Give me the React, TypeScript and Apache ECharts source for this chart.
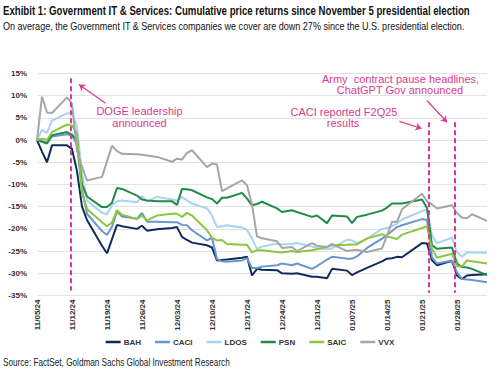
import React, { useEffect, useRef } from 'react';
import * as echarts from 'echarts';

const tradingDays = [
  '2024-11-05', '2024-11-06', '2024-11-07', '2024-11-08', '2024-11-11', '2024-11-12', '2024-11-13', '2024-11-14', '2024-11-15',
  '2024-11-18', '2024-11-19', '2024-11-20', '2024-11-21', '2024-11-22', '2024-11-25', '2024-11-26', '2024-11-27', '2024-11-29',
  '2024-12-02', '2024-12-03', '2024-12-04', '2024-12-05', '2024-12-06', '2024-12-09', '2024-12-10', '2024-12-11', '2024-12-12',
  '2024-12-13', '2024-12-16', '2024-12-17', '2024-12-18', '2024-12-19', '2024-12-20', '2024-12-23', '2024-12-24', '2024-12-26',
  '2024-12-27', '2024-12-30', '2024-12-31', '2025-01-02', '2025-01-03', '2025-01-06', '2025-01-07', '2025-01-08', '2025-01-10',
  '2025-01-13', '2025-01-14', '2025-01-15', '2025-01-16', '2025-01-17', '2025-01-21', '2025-01-22', '2025-01-23', '2025-01-24',
  '2025-01-27', '2025-01-28', '2025-01-29', '2025-01-30', '2025-01-31', '2025-02-03',
];

const BAH = [0, -2.6, -5, -1.2, -1.2, -2.0, -7, -15, -18, -23.8, -25.5, -22.3, -19.1, -19.4, -20, -19.3, -20.4, -20.1, -19.8, -19.6, -21.8, -22.5, -23.1, -23.7, -24.2, -27.1, -27.0, -26.9, -26.5, -26.3, -30.5, -29.0, -29.2, -29.3, -30.0, -30.1, -30.0, -30.8, -30.8, -31.1, -29.0, -29.4, -30.4, -29.8, -28.8, -27.3, -26.7, -26.6, -26.3, -26.4, -23.2, -23.3, -27.1, -28.2, -27.2, -30.5, -31.3, -30.5, -30.4, -30.2];
const CACI = [0, -0.3, -0.6, 0.8, 1.3, 1.0, -1, -11, -16.6, -20.5, -21.4, -19.5, -16.1, -17.2, -17.7, -16.4, -18.4, -18.4, -18.5, -18.5, -19.1, -19.2, -20.3, -22.6, -22.0, -26.8, -27.3, -27.4, -27.1, -26.6, -28.8, -28.8, -28.5, -28.2, -27.8, -28.2, -27.8, -29.0, -28.4, -26.9, -26.3, -26.7, -26.7, -26.2, -24.3, -22.2, -21.4, -20.5, -19.6, -19.2, -17.8, -18.0, -26.4, -27.8, -27.1, -29.8, -31.3, -31.4, -31.5, -32.0];
const LDOS = [0, 2.3, 1.6, 4.4, 6.0, 6.2, 2.9, -7.5, -13.6, -16.4, -16.7, -14.7, -13.8, -13.6, -14.0, -12.6, -13.8, -12.8, -13.4, -13.6, -12.8, -13.6, -14.3, -15.4, -17.0, -19.6, -19.4, -19.2, -19.7, -20.2, -22.2, -24.5, -24.0, -23.3, -23.5, -23.4, -23.2, -24.0, -24.3, -24.6, -24.4, -22.4, -22.6, -23.2, -22.2, -20.0, -19.8, -19.4, -18.8, -17.9, -16.0, -15.6, -21.5, -23.2, -22.0, -25.2, -26.3, -25.3, -25.3, -25.4];
const PSN = [0, -0.4, -0.8, 1.1, 1.8, 1.2, 0, -10, -12.7, -15.1, -15.1, -14.1, -10.8, -11.0, -12.5, -13.4, -13.6, -13.8, -13.8, -14.6, -11.0, -11.1, -11.3, -12.9, -13.3, -14.3, -13.0, -13.0, -11.9, -13.2, -14.7, -14.4, -13.9, -15.4, -16.2, -15.8, -16.2, -17.3, -17.0, -18.7, -17.0, -17.2, -18.7, -17.3, -16.8, -15.9, -15.2, -14.3, -14.3, -14.3, -13.4, -15.3, -23.7, -24.5, -24.2, -27.8, -28.6, -28.7, -29.0, -30.4];
const SAIC = [0, 0.3, 0, 1.8, 3.5, 3.3, 1.4, -12, -15.5, -18.5, -19.4, -18.6, -15.8, -16.8, -17.8, -17.0, -18.1, -17.0, -16.6, -16.6, -17.3, -16.4, -17.0, -20.3, -22.0, -22.6, -22.5, -23.4, -23.6, -23.6, -25.3, -24.8, -24.8, -25.2, -25.3, -25.0, -25.2, -24.8, -24.6, -24.1, -23.7, -23.6, -23.5, -23.5, -22.2, -21.2, -21.7, -22.0, -22.3, -21.3, -19.8, -19.4, -24.5, -26.5, -25.6, -28.4, -28.5, -27.1, -27.3, -27.8];
const VVX = [0, 9.8, 6.2, 6.1, 9.6, 8.2, -2.5, -6, -9.1, -8.3, -4.8, -1.3, -2.5, -3.1, -3.2, -3.3, -3.5, -3.8, -4.9, -4.2, -4.4, -2.9, -2.3, -6.1, -5.3, -5.5, -11.5, -10.9, -9.1, -10.2, -14.5, -21.7, -22.1, -22.8, -24.3, -24.1, -25.0, -23.2, -23.8, -24.1, -23.4, -25.0, -24.8, -24.7, -25.2, -24.4, -21.5, -18.4, -18.4, -15.6, -12.1, -13.8, -14.5, -15.4, -14.7, -16.5, -17.5, -17.6, -16.7, -18.2];

const seriesNames = ['BAH', 'CACI', 'LDOS', 'PSN', 'SAIC', 'VVX'];
const seriesValues = [BAH, CACI, LDOS, PSN, SAIC, VVX];
const seriesColors = ['#0c2d5b', '#6a95d1', '#a9d3f2', '#1f8b4a', '#8cc63f', '#a6a6a6'];

const axisStart = '2024-11-05';
const axisEnd = '2025-02-03';
const yMin = -35;
const yMax = 15;
const yStep = 5;
const xStepDays = 7;

const title = 'Exhibit 1: Government IT & Services: Cumulative price returns since November 5 presidential election';
const subtitle = 'On average, the Government IT & Services companies we cover are down 27% since the U.S. presidential election.';
const source = 'Source: FactSet, Goldman Sachs Global Investment Research';

const PINK = '#d63c8d';
const DAY = 86400000;
const START = Date.parse(axisStart + 'T00:00:00Z');
const dayOffset = (iso: string) => Math.round((Date.parse(iso + 'T00:00:00Z') - START) / DAY);
const fmtDay = (d: number) => {
  const dt = new Date(START + d * DAY);
  const mm = String(dt.getUTCMonth() + 1).padStart(2, '0');
  const dd = String(dt.getUTCDate()).padStart(2, '0');
  const yy = String(dt.getUTCFullYear() % 100).padStart(2, '0');
  return `${mm}/${dd}/${yy}`;
};

export default function App() {
  const ref = useRef<HTMLDivElement>(null);
  useEffect(() => {
    if (!ref.current) return;
    const chart = echarts.init(ref.current, undefined, { renderer: 'svg' });
    const xs = tradingDays.map(dayOffset);
    const font = '"Liberation Sans", Arial, sans-serif';

    const canvas = document.createElement('canvas');
    const ctx = canvas.getContext('2d');
    const fitText = (text: string, f: string, target: number) => {
      if (!ctx) return 1;
      ctx.font = f;
      const w = ctx.measureText(text).width;
      return w > 0 ? target / w : 1;
    };
    const titleFont = `bold 12.5px ${font}`;
    const subFont = `11.5px ${font}`;
    const srcFont = `10.5px ${font}`;

    const lineSeries = seriesNames.map((name, i) => ({
      name,
      type: 'line',
      data: seriesValues[i].map((v, j) => [xs[j], v]),
      showSymbol: false,
      symbol: 'none',
      lineStyle: { width: 2, color: seriesColors[i] },
      itemStyle: { color: seriesColors[i] },
      z: 3,
    }));

    const dash = (d: number, top: number, bottom: number) => [
      { coord: [d, top] },
      { coord: [d, bottom] },
    ];
    const arrow = (x1: number, y1: number, x2: number, y2: number) => [
      { coord: [x1, y1], symbol: 'none' },
      { coord: [x2, y2], symbol: 'arrow', symbolSize: 6 },
    ];
    const note = (text: string, x: number, y: number) => ({
      type: 'text', x, y,
      style: { text, font: `11px ${font}`, fill: PINK, align: 'center', verticalAlign: 'middle' },
    });

    chart.setOption({
      animation: false,
      backgroundColor: '#ffffff',
      grid: { left: 37, right: 13, top: 73.4, bottom: 81.5, containLabel: false },
      xAxis: {
        type: 'value',
        min: 0,
        max: dayOffset(axisEnd),
        interval: xStepDays,
        axisLine: { show: false },
        axisTick: { show: false },
        splitLine: { show: false },
        axisLabel: {
          rotate: 90,
          margin: 4,
          fontSize: 8,
          fontWeight: 'bold',
          color: '#333333',
          fontFamily: font,
          showMaxLabel: false,
          formatter: (v: number) => fmtDay(v),
        },
      },
      yAxis: {
        type: 'value',
        min: yMin,
        max: yMax,
        interval: yStep,
        axisLine: { show: false },
        axisTick: { show: false },
        splitLine: { lineStyle: { color: '#e2e2e2', width: 1 } },
        axisLabel: {
          margin: 10,
          fontSize: 8,
          fontWeight: 'bold',
          color: '#333333',
          fontFamily: font,
          formatter: (v: number) => `${v}%`,
        },
      },
      legend: {
        data: seriesNames,
        top: 333,
        left: 'center',
        icon: 'rect',
        itemWidth: 15,
        itemHeight: 2.5,
        itemGap: 14,
        textStyle: { fontSize: 8, fontWeight: 'bold', color: '#333333', fontFamily: font, padding: [0, 0, 0, -2] },
      },
      series: [
        {
          name: 'zero',
          type: 'line',
          data: [],
          z: 1,
          markLine: {
            silent: true,
            symbol: ['none', 'none'],
            label: { show: false },
            lineStyle: { color: '#8c8c8c', width: 1.5, type: 'solid' },
            data: [[{ coord: [-0.4, 0] }, { coord: [dayOffset(axisEnd), 0] }]],
          },
        },
        ...lineSeries,
        {
          name: 'events',
          type: 'line',
          data: [],
          z: 5,
          markLine: {
            silent: true,
            symbol: ['none', 'none'],
            label: { show: false },
            lineStyle: { color: PINK, width: 2, type: [5, 3] },
            data: [dash(6.7, 13.9, -33.9), dash(78.3, 4.0, -34.4), dash(83.5, 4.0, -34.4)],
          },
        },
        {
          name: 'arrows',
          type: 'line',
          data: [],
          z: 5,
          markLine: {
            silent: true,
            label: { show: false },
            lineStyle: { color: PINK, width: 1.2, type: 'solid' },
            data: [
              arrow(13.7, 8.3, 8.4, 12.5),
              arrow(72.5, 4.2, 76.9, 2.6),
              arrow(78.0, 8.9, 82.0, 4.0),
            ],
          },
        },
      ],
      graphic: [
        { type: 'text', x: 3, y: 11, scaleX: fitText(title, titleFont, 467), style: { text: title, font: titleFont, fill: '#111111', verticalAlign: 'middle' } },
        { type: 'text', x: 3, y: 26, scaleX: fitText(subtitle, subFont, 462), style: { text: subtitle, font: subFont, fill: '#111111', verticalAlign: 'middle' } },
        { type: 'text', x: 3, y: 362, scaleX: fitText(source, srcFont, 227), style: { text: source, font: srcFont, fill: '#222222', verticalAlign: 'middle' } },
        note('DOGE leadership', 139.5, 111),
        note('announced', 139.5, 122.5),
        note('CACI reported F2Q25', 344, 112),
        note('results', 343, 123),
        note('Army  contract pause headlines,', 400.5, 78.5),
        note('ChatGPT Gov announced', 400, 90),
      ],
    });
    return () => chart.dispose();
  }, []);
  return <div ref={ref} style={{ width: 500, height: 377, position: 'absolute', left: 0, top: 0 }} />;
}
